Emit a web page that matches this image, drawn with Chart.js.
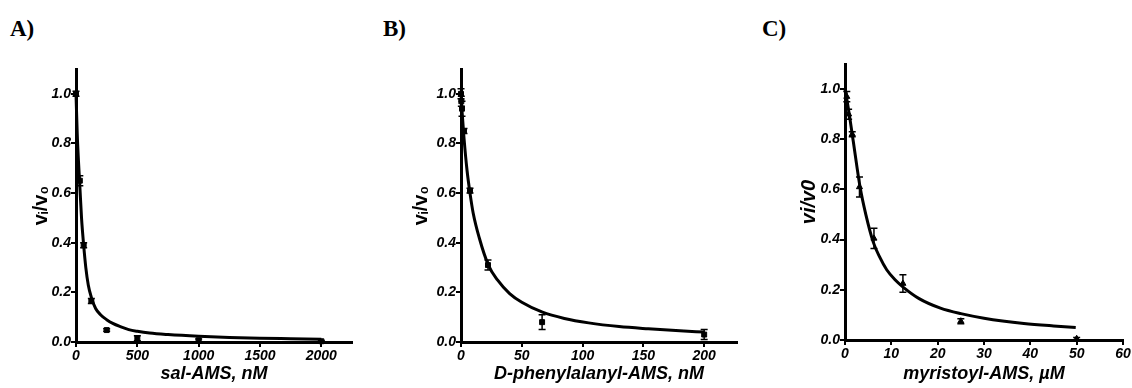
<!DOCTYPE html>
<html>
<head>
<meta charset="utf-8">
<script src="https://cdn.jsdelivr.net/npm/chart.js@4.4.0/dist/chart.umd.min.js"></script>
<style>
  html, body { margin: 0; padding: 0; background: #fff; }
  #page { position: relative; width: 1132px; height: 388px; overflow: hidden; }
  canvas { position: absolute; top: 0; }
  .tag { position: absolute; top: 16px; font: bold 23px "Liberation Serif", serif; color: #000; }
</style>
</head>
<body>
<div id="page">
  <div class="tag" style="left:10px">A)</div>
  <div class="tag" style="left:383px">B)</div>
  <div class="tag" style="left:762px">C)</div>
  <canvas id="chartA" width="377" height="388" style="left:0px"></canvas>
  <canvas id="chartB" width="377" height="388" style="left:377px"></canvas>
  <canvas id="chartC" width="378" height="388" style="left:754px"></canvas>
</div>
<script>
// A) sal-AMS
const aConc = [0, 31.25, 62.5, 125, 250, 500, 1000, 2000];
const aRatio = [1.0, 0.65, 0.39, 0.165, 0.048, 0.015, 0.007, 0.003];
const aErr = [0.01, 0.02, 0.01, 0.01, 0.005, 0.01, 0.005, 0.003];
const aFitX = [0, 10, 20, 31, 45, 62.5, 80, 100, 125, 160, 200, 250, 300, 361, 430, 500, 600, 750, 1000, 1250, 1500, 1750, 2000];
const aFitY = [1.0, 0.84, 0.73, 0.63, 0.5, 0.39, 0.3, 0.23, 0.18, 0.135, 0.11, 0.09, 0.075, 0.062, 0.05, 0.043, 0.036, 0.03, 0.023, 0.018, 0.015, 0.013, 0.011];
const aTicksX = [0, 500, 1000, 1500, 2000];

// B) D-phenylalanyl-AMS
const bConc = [0, 0.27, 0.82, 2.47, 7.4, 22.2, 66.7, 200];
const bRatio = [1.0, 0.97, 0.94, 0.85, 0.61, 0.31, 0.08, 0.03];
const bErr = [0.02, 0.02, 0.03, 0.01, 0.01, 0.02, 0.03, 0.02];
const bFitX = [0, 1, 2.5, 5, 7.4, 10, 15, 22.5, 30, 40, 50, 67, 85, 105, 130, 154, 180, 200];
const bFitY = [1.0, 0.92, 0.82, 0.69, 0.6, 0.52, 0.42, 0.31, 0.25, 0.195, 0.16, 0.12, 0.095, 0.077, 0.062, 0.053, 0.045, 0.04];
const bTicksX = [0, 50, 100, 150, 200];

// C) myristoyl-AMS
const cConc = [0.39, 0.78, 1.56, 3.125, 6.25, 12.5, 25, 50];
const cRatio = [0.97, 0.9, 0.82, 0.61, 0.405, 0.225, 0.075, 0.005];
const cErr = [0.02, 0.02, 0.01, 0.04, 0.04, 0.035, 0.01, 0.005];
const cFitX = [0, 0.4, 1, 1.8, 2.5, 3.25, 4.5, 6.1, 7.5, 9, 10.8, 12.6, 16, 20.6, 25, 30, 38.6, 45, 49.8];
const cFitY = [1.0, 0.96, 0.89, 0.79, 0.7, 0.61, 0.5, 0.39, 0.33, 0.28, 0.24, 0.21, 0.165, 0.127, 0.105, 0.087, 0.066, 0.056, 0.05];
const cTicksX = [0, 10, 20, 30, 40, 50, 60];

const yTicks = [0, 0.2, 0.4, 0.6, 0.8, 1.0];

const tickFont = { family: "'Liberation Sans', Arial, sans-serif", size: 14, weight: "bold", style: "italic" };
const titleFont = { family: "'Liberation Sans', Arial, 'DejaVu Sans', sans-serif", size: 18, weight: "bold", style: "italic" };
const yTitleFont = { family: "'Liberation Sans', Arial, 'DejaVu Sans', sans-serif", size: 20, weight: "bold" };

const errorBars = {
  id: "errorBars",
  afterDatasetsDraw(chart) {
    const ctx = chart.ctx;
    const xs = chart.scales.x, ys = chart.scales.y;
    chart.data.datasets.forEach((ds) => {
      if (!ds.errors) return;
      ctx.save();
      ctx.strokeStyle = "#000";
      ctx.lineWidth = 1.5;
      ds.data.forEach((p, i) => {
        const e = ds.errors[i];
        const px = xs.getPixelForValue(p.x);
        const top = ys.getPixelForValue(p.y + e);
        const bot = ys.getPixelForValue(Math.max(p.y - e, 0));
        ctx.beginPath();
        ctx.moveTo(px, top); ctx.lineTo(px, bot);
        ctx.moveTo(px - 3.5, top); ctx.lineTo(px + 3.5, top);
        ctx.moveTo(px - 3.5, bot); ctx.lineTo(px + 3.5, bot);
        ctx.stroke();
      });
      ctx.restore();
    });
  },
};

function pairs(xs, ys) {
  return xs.map((x, i) => ({ x: x, y: ys[i] }));
}

function makePanel(id, p) {
  new Chart(document.getElementById(id), {
    type: "scatter",
    data: {
      datasets: [
        {
          data: pairs(p.fitX, p.fitY),
          showLine: true,
          borderColor: "#000",
          borderWidth: 3,
          pointRadius: 0,
          cubicInterpolationMode: "monotone",
          clip: false,
        },
        {
          data: pairs(p.conc, p.ratio),
          errors: p.err,
          showLine: false,
          pointStyle: p.marker,
          pointRadius: 3.5,
          backgroundColor: "#000",
          borderColor: "#000",
          clip: false,
        },
      ],
    },
    options: {
      responsive: false,
      animation: false,
      layout: { padding: { left: p.padLeft, right: p.padRight, top: p.padTop, bottom: 0 } },
      plugins: { legend: { display: false }, tooltip: { enabled: false } },
      scales: {
        x: {
          type: "linear",
          min: 0,
          max: p.xMax,
          afterBuildTicks: (s) => { s.ticks = p.ticksX.map((v) => ({ value: v })); },
          afterFit: (s) => { s.height = p.xHeight; },
          grid: { display: true, drawOnChartArea: false, drawTicks: true, tickLength: 5, color: "#000", lineWidth: 2 },
          border: { display: true, color: "#000", width: 3 },
          ticks: { color: "#000", font: tickFont, padding: 1, maxRotation: 0, autoSkip: false, callback: (v) => String(v) },
          title: { display: true, text: p.xTitle, color: "#000", font: titleFont, padding: { top: 0, bottom: 3 } },
        },
        y: {
          type: "linear",
          min: 0,
          max: 1.1,
          afterBuildTicks: (s) => { s.ticks = yTicks.map((v) => ({ value: v })); },
          afterFit: (s) => { s.width = p.yWidth; },
          grid: { display: true, drawOnChartArea: false, drawTicks: true, tickLength: 5, color: "#000", lineWidth: 2 },
          border: { display: true, color: "#000", width: 3 },
          ticks: { color: "#000", font: tickFont, padding: 0, callback: (v) => v.toFixed(1) },
          title: { display: true, text: p.yTitle, color: "#000", font: p.yFont, padding: { top: 3, bottom: 3 } },
        },
      },
    },
    plugins: [errorBars],
  });
}

makePanel("chartA", {
  conc: aConc, ratio: aRatio, err: aErr, fitX: aFitX, fitY: aFitY, ticksX: aTicksX,
  xMax: 2250, xTitle: "sal-AMS, nM", yTitle: "vᵢ/v₀", yFont: yTitleFont, marker: "rect",
  padLeft: 26, yWidth: 50, padRight: 25, padTop: 69, xHeight: 46,
});

makePanel("chartB", {
  conc: bConc, ratio: bRatio, err: bErr, fitX: bFitX, fitY: bFitY, ticksX: bTicksX,
  xMax: 227, xTitle: "D-phenylalanyl-AMS, nM", yTitle: "vᵢ/v₀", yFont: yTitleFont, marker: "rect",
  padLeft: 29, yWidth: 55, padRight: 17, padTop: 69, xHeight: 46,
});

makePanel("chartC", {
  conc: cConc, ratio: cRatio, err: cErr, fitX: cFitX, fitY: cFitY, ticksX: cTicksX,
  xMax: 60, xTitle: "myristoyl-AMS, µM", yTitle: "vi/v0", yFont: { ...titleFont, size: 20 }, marker: "triangle",
  padLeft: 40, yWidth: 51, padRight: 9, padTop: 64, xHeight: 48,
});
</script>
</body>
</html>
